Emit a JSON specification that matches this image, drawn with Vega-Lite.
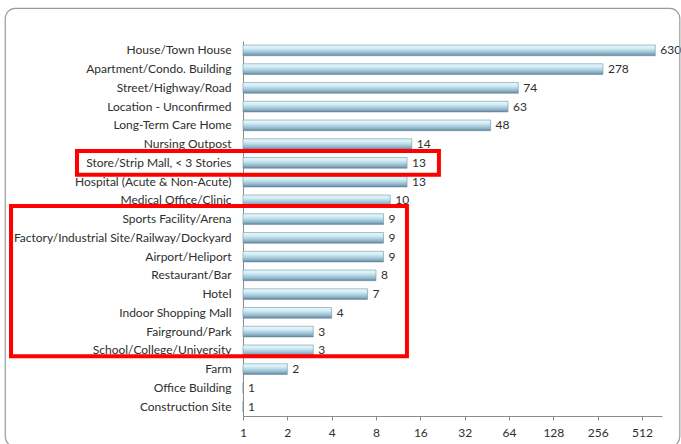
{
  "$schema": "https://vega.github.io/schema/vega-lite/v6.json",
  "width": 419,
  "height": 375,
  "autosize": "none",
  "padding": {"left": 243, "top": 41, "right": 19, "bottom": 28},
  "background": "white",
  "config": {"view": {"stroke": null}, "font": "Lato"},
  "datasets": {
    "main": [
      {"category": "House/Town House", "count": 630},
      {"category": "Apartment/Condo. Building", "count": 278},
      {"category": "Street/Highway/Road", "count": 74},
      {"category": "Location - Unconfirmed", "count": 63},
      {"category": "Long-Term Care Home", "count": 48},
      {"category": "Nursing Outpost", "count": 14},
      {"category": "Store/Strip Mall, < 3 Stories", "count": 13},
      {"category": "Hospital (Acute & Non-Acute)", "count": 13},
      {"category": "Medical Office/Clinic", "count": 10},
      {"category": "Sports Facility/Arena", "count": 9},
      {"category": "Factory/Industrial Site/Railway/Dockyard", "count": 9},
      {"category": "Airport/Heliport", "count": 9},
      {"category": "Restaurant/Bar", "count": 8},
      {"category": "Hotel", "count": 7},
      {"category": "Indoor Shopping Mall", "count": 4},
      {"category": "Fairground/Park", "count": 3},
      {"category": "School/College/University", "count": 3},
      {"category": "Farm", "count": 2},
      {"category": "Office Building", "count": 1},
      {"category": "Construction Site", "count": 1}
    ],
    "box1": [{"top": "Store/Strip Mall, < 3 Stories", "bottom": "Store/Strip Mall, < 3 Stories", "lo": 0.0746, "hi": 21.4}],
    "box2": [{"top": "Sports Facility/Arena", "bottom": "School/College/University", "lo": 0.0266, "hi": 12.98}],
    "frame": [{"top": "House/Town House", "bottom": "Construction Site", "lo": 0.0243, "hi": 925}]
  },
  "layer": [
    {
      "data": {"name": "main"},
      "mark": {
        "type": "bar",
        "stroke": "#6f93a8",
        "strokeWidth": 0.6,
        "color": {
          "gradient": "linear", "x1": 0, "y1": 0, "x2": 0, "y2": 1,
          "stops": [
            {"offset": 0, "color": "#eaf8fc"},
            {"offset": 0.3, "color": "#d2edf6"},
            {"offset": 0.55, "color": "#b0d1e1"},
            {"offset": 0.8, "color": "#8bb0c4"},
            {"offset": 1, "color": "#5e8096"}
          ]
        }
      },
      "encoding": {
        "y": {
          "field": "category", "type": "nominal", "sort": null,
          "scale": {"paddingInner": 0.43, "paddingOuter": 0.215, "domain": ["House/Town House", "Apartment/Condo. Building", "Street/Highway/Road", "Location - Unconfirmed", "Long-Term Care Home", "Nursing Outpost", "Store/Strip Mall, < 3 Stories", "Hospital (Acute & Non-Acute)", "Medical Office/Clinic", "Sports Facility/Arena", "Factory/Industrial Site/Railway/Dockyard", "Airport/Heliport", "Restaurant/Bar", "Hotel", "Indoor Shopping Mall", "Fairground/Park", "School/College/University", "Farm", "Office Building", "Construction Site"]},
          "axis": {"title": null, "ticks": false, "labelFontSize": 12, "labelColor": "#2e2e2e", "labelPadding": 12, "domainColor": "#8a8a8a", "labelFont": "Lato", "labelLimit": 300}
        },
        "x": {
          "field": "count", "type": "quantitative", "stack": null,
          "scale": {"type": "log", "base": 2, "domain": [1, 700], "nice": false},
          "axis": {"title": null, "values": [1, 2, 4, 8, 16, 32, 64, 128, 256, 512], "grid": false, "domainColor": "#8a8a8a", "tickColor": "#8a8a8a", "tickSize": 4, "labelFontSize": 12, "labelColor": "#2e2e2e", "labelPadding": 7, "labelFont": "Lato", "labelFlush": false}
        }
      }
    },
    {
      "data": {"name": "main"},
      "mark": {"type": "text", "align": "left", "baseline": "middle", "dx": 5, "fontSize": 12, "color": "#2e2e2e"},
      "encoding": {
        "y": {"field": "category", "type": "nominal", "sort": null},
        "x": {"field": "count", "type": "quantitative"},
        "text": {"field": "count", "type": "quantitative"}
      }
    },
    {
      "data": {"name": "frame"},
      "mark": {"type": "rect", "fill": null, "stroke": "#9a9a9a", "strokeWidth": 1.2, "cornerRadius": 10, "clip": false},
      "encoding": {
        "x": {"field": "lo", "type": "quantitative"},
        "x2": {"field": "hi"},
        "y": {"field": "top", "type": "nominal", "bandPosition": -3.43, "sort": null},
        "y2": {"field": "bottom", "bandPosition": 4.24}
      }
    },
    {
      "data": {"name": "box1"},
      "mark": {"type": "rect", "fill": null, "stroke": "#ff0000", "strokeWidth": 4, "clip": false},
      "encoding": {
        "x": {"field": "lo", "type": "quantitative"},
        "x2": {"field": "hi"},
        "y": {"field": "top", "type": "nominal", "bandPosition": -0.62, "sort": null},
        "y2": {"field": "bottom", "bandPosition": 1.62}
      }
    },
    {
      "data": {"name": "box2"},
      "mark": {"type": "rect", "fill": null, "stroke": "#ff0000", "strokeWidth": 4, "clip": false},
      "encoding": {
        "x": {"field": "lo", "type": "quantitative"},
        "x2": {"field": "hi"},
        "y": {"field": "top", "type": "nominal", "bandPosition": -0.72, "sort": null},
        "y2": {"field": "bottom", "bandPosition": 1.06}
      }
    }
  ]
}
